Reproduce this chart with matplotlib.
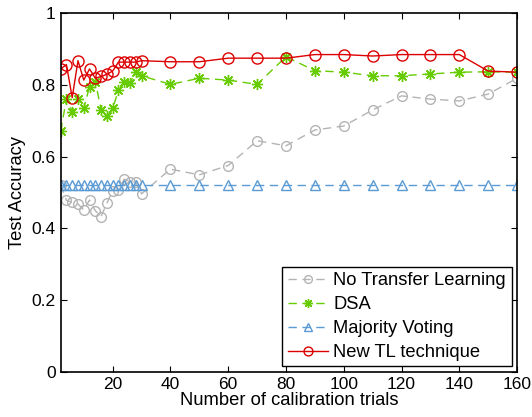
import matplotlib
matplotlib.use("Agg")
import matplotlib.pyplot as plt

plt.rcParams["font.family"] = ["Liberation Sans", "DejaVu Sans"]

# Calibration trial counts
trials = [2, 4, 6, 8, 10, 12, 14, 16, 18, 20, 22, 24, 26, 28, 30,
          40, 50, 60, 70, 80, 90, 100, 110, 120, 130, 140, 150, 160]

no_transfer = [0.521, 0.478, 0.472, 0.468, 0.451, 0.479, 0.449, 0.433, 0.470,
               0.505, 0.507, 0.537, 0.530, 0.530, 0.496,
               0.565, 0.549, 0.575, 0.644, 0.630, 0.674, 0.685, 0.730, 0.769,
               0.760, 0.755, 0.774, 0.818]
dsa = [0.671, 0.760, 0.725, 0.760, 0.734, 0.795, 0.809, 0.730, 0.713, 0.734,
       0.784, 0.809, 0.806, 0.835, 0.825,
       0.801, 0.818, 0.813, 0.801, 0.878, 0.839, 0.835, 0.825, 0.825, 0.830,
       0.835, 0.836, 0.835]
majority = [0.52] * len(trials)
new_tl = [0.844, 0.856, 0.764, 0.867, 0.813, 0.844, 0.818, 0.823, 0.829,
          0.838, 0.863, 0.863, 0.863, 0.863, 0.867,
          0.864, 0.864, 0.874, 0.874, 0.874, 0.884, 0.884, 0.880, 0.884,
          0.884, 0.884, 0.838, 0.835]

fig = plt.figure(figsize=(5.32, 4.17), dpi=100)
ax = fig.add_axes([0.114, 0.108, 0.858, 0.861])

ax.plot(trials, no_transfer, color="#b4b4b4", linestyle=(0, (6, 4)), lw=1.0,
        marker="o", ms=7, mfc="none", mec="#b4b4b4", mew=1.0,
        label="No Transfer Learning")
ax.plot(trials, dsa, color="#66cc00", linestyle=(0, (6, 4)), lw=1.0,
        marker=(8, 2, 0), ms=8, mec="#66cc00", mew=1.0, label="DSA")
ax.plot(trials, majority, color="#5b9bd5", linestyle=(0, (6, 4)), lw=1.0,
        marker="^", ms=7, mfc="none", mec="#5b9bd5", mew=1.0,
        label="Majority Voting")
ax.plot(trials, new_tl, color="#dd0000", linestyle="-", lw=1.0,
        marker="o", ms=8, mfc="none", mec="#dd0000", mew=1.0,
        label="New TL technique")

ax.set_xlim(2, 160)
ax.set_ylim(0, 1)
ax.set_xticks(range(20, 161, 20))
ax.set_yticks([0, 0.2, 0.4, 0.6, 0.8, 1])
ax.set_yticklabels(["0", "0.2", "0.4", "0.6", "0.8", "1"])
ax.tick_params(direction="in", top=True, right=True, labelsize=12.5,
               length=4, width=0.8)
for s in ax.spines.values():
    s.set_linewidth(1.2)

ax.set_xlabel("Number of calibration trials", fontsize=13.2, labelpad=0)
ax.set_ylabel("Test Accuracy", fontsize=13.2, labelpad=4)

leg = ax.legend(loc="lower right", fontsize=13.2, frameon=True, fancybox=False,
                edgecolor="black", framealpha=1, handlelength=2.2,
                handletextpad=0.3, borderpad=0.3, labelspacing=0.38,
                borderaxespad=0.3, markerscale=0.8)
leg.get_frame().set_linewidth(1.0)

fig.savefig("out.png", dpi=100)
